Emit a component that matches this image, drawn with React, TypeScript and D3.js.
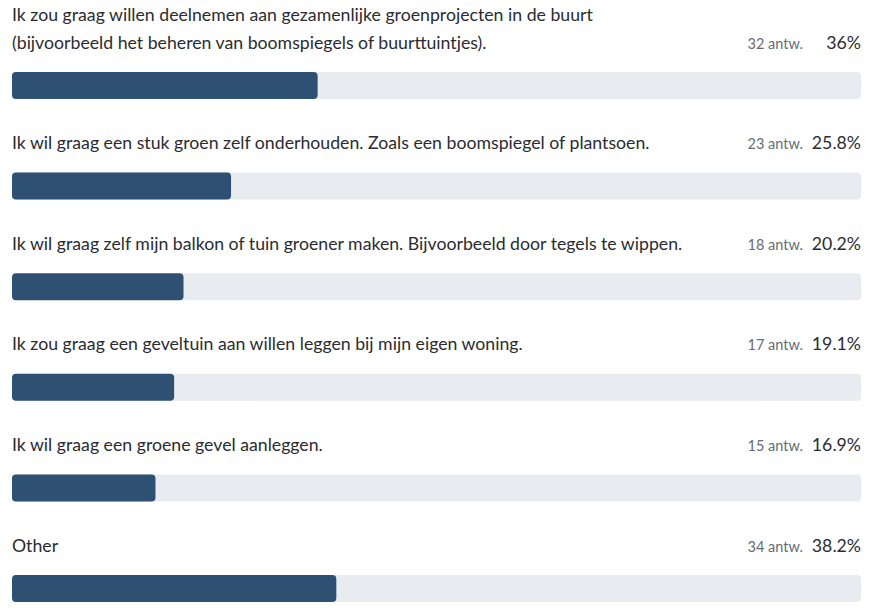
import React, { useEffect, useRef } from 'react';
import * as d3 from 'd3';

// survey answers, label lines as shown
const labels: string[][] = [
  ['Ik zou graag willen deelnemen aan gezamenlijke groenprojecten in de buurt', '(bijvoorbeeld het beheren van boomspiegels of buurttuintjes).'],
  ['Ik wil graag een stuk groen zelf onderhouden. Zoals een boomspiegel of plantsoen.'],
  ['Ik wil graag zelf mijn balkon of tuin groener maken. Bijvoorbeeld door tegels te wippen.'],
  ['Ik zou graag een geveltuin aan willen leggen bij mijn eigen woning.'],
  ['Ik wil graag een groene gevel aanleggen.'],
  ['Other'],
];
const counts = [32, 23, 18, 17, 15, 34];
const percents = [36, 25.8, 20.2, 19.1, 16.9, 38.2];

export default function App() {
  const svgRef = useRef<SVGSVGElement>(null);

  useEffect(() => {
    if (!svgRef.current) return;
    const width = 875;
    const height = 613;
    const svg = d3.select(svgRef.current);
    svg.selectAll('*').remove();

    const x = d3.scaleLinear().domain([0, 100]).range([12, 861]);
    const y = d3.scaleLinear().domain([0, labels.length - 1]).range([72, 575]);
    const barH = 27;
    const font = 'Lato, sans-serif';

    const row = svg.selectAll('g.row')
      .data(labels.map((l, i) => ({ lines: l, count: counts[i], pct: percents[i], i })))
      .enter()
      .append('g')
      .attr('class', 'row')
      .attr('transform', d => `translate(0,${y(d.i)})`);

    // track
    row.append('rect')
      .attr('x', x(0))
      .attr('y', 0)
      .attr('width', x(100) - x(0))
      .attr('height', barH)
      .attr('rx', 4)
      .attr('fill', '#e8ebf0');

    // value bar
    row.append('rect')
      .attr('x', x(0))
      .attr('y', 0)
      .attr('width', d => x(d.pct) - x(0))
      .attr('height', barH)
      .attr('rx', 4)
      .attr('fill', '#2d5073');

    // label lines, last line sits just above the bar
    row.each(function (d) {
      const g = d3.select(this);
      const n = d.lines.length;
      d.lines.forEach((line, j) => {
        g.append('text')
          .attr('x', 12)
          .attr('y', -23.5 - (n - 1 - j) * 28)
          .attr('font-family', font)
          .attr('font-size', 17.7)
          .attr('fill', '#2a2c31')
          .text(line);
      });
    });

    row.append('text')
      .attr('x', 803)
      .attr('y', -23.5)
      .attr('text-anchor', 'end')
      .attr('font-family', font)
      .attr('font-size', 14.5)
      .attr('fill', '#666c75')
      .text(d => `${d.count} antw.`);

    row.append('text')
      .attr('x', 861)
      .attr('y', -23.5)
      .attr('text-anchor', 'end')
      .attr('font-family', font)
      .attr('font-size', 17.7)
      .attr('fill', '#2a2c31')
      .text(d => `${d.pct}%`);

    svg.attr('width', width).attr('height', height);
  }, []);

  return (
    <svg ref={svgRef} width={875} height={613}
      style={{ position: 'absolute', left: 0, top: 0, background: '#fff' }} />
  );
}
